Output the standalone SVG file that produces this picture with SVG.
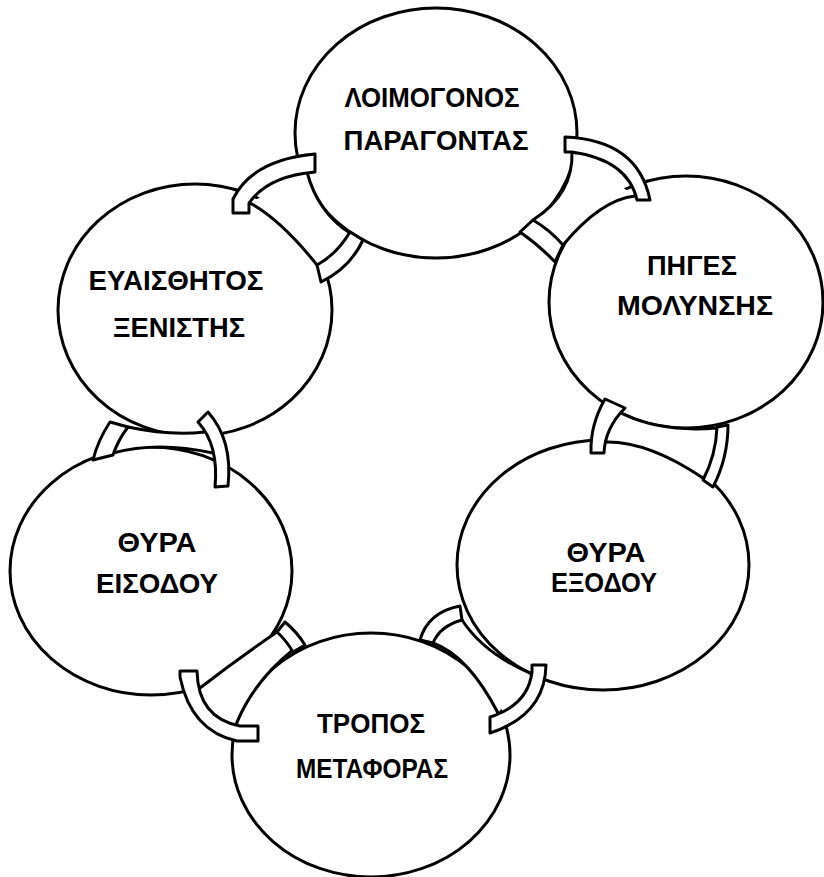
<svg xmlns="http://www.w3.org/2000/svg" width="824" height="877" viewBox="0 0 824 877">
<style>
.c{fill:#fff;stroke:#000;stroke-width:3}
.t{font-family:"Liberation Sans","DejaVu Sans",sans-serif;font-size:27px;font-weight:bold;fill:#000;text-anchor:middle}
.tf{fill:#fff;stroke:none}
.ts{fill:none;stroke:#000;stroke-width:3;stroke-linecap:round}
.lk{fill:#fff;stroke:#000;stroke-width:3;stroke-linejoin:round}
</style>
<rect width="824" height="877" fill="#fff"/>
<g id="node-loimogonos">
<ellipse class="c" cx="436" cy="133" rx="141" ry="125"/>
<text class="t" x="432" y="107" textLength="175" lengthAdjust="spacingAndGlyphs">ΛΟΙΜΟΓΟΝΟΣ</text>
<text class="t" x="436" y="150" textLength="185" lengthAdjust="spacingAndGlyphs">ΠΑΡΑΓΟΝΤΑΣ</text>
</g>
<g id="node-piges">
<ellipse class="c" cx="686" cy="302" rx="137" ry="126"/>
<text class="t" x="692" y="275" textLength="90" lengthAdjust="spacingAndGlyphs">ΠΗΓΕΣ</text>
<text class="t" x="695" y="315" textLength="156" lengthAdjust="spacingAndGlyphs">ΜΟΛΥΝΣΗΣ</text>
</g>
<g id="node-exodou">
<ellipse class="c" cx="603" cy="565" rx="146" ry="125"/>
<text class="t" x="606" y="562" textLength="79" lengthAdjust="spacingAndGlyphs">ΘΥΡΑ</text>
<text class="t" x="604" y="592" textLength="106" lengthAdjust="spacingAndGlyphs">ΕΞΟΔΟΥ</text>
</g>
<g id="node-tropos">
<ellipse class="c" cx="371" cy="755" rx="139" ry="122"/>
<text class="t" x="371" y="733" textLength="108" lengthAdjust="spacingAndGlyphs">ΤΡΟΠΟΣ</text>
<text class="t" x="372" y="778" textLength="152" lengthAdjust="spacingAndGlyphs">ΜΕΤΑΦΟΡΑΣ</text>
</g>
<g id="node-eisodou">
<ellipse class="c" cx="151" cy="571" rx="141" ry="124"/>
<text class="t" x="157" y="552" textLength="79" lengthAdjust="spacingAndGlyphs">ΘΥΡΑ</text>
<text class="t" x="157" y="593" textLength="122" lengthAdjust="spacingAndGlyphs">ΕΙΣΟΔΟΥ</text>
</g>
<g id="node-euaisthitos">
<ellipse class="c" cx="195" cy="310" rx="137" ry="126"/>
<text class="t" x="176" y="290" textLength="175" lengthAdjust="spacingAndGlyphs">ΕΥΑΙΣΘΗΤΟΣ</text>
<text class="t" x="179" y="337" textLength="132" lengthAdjust="spacingAndGlyphs">ΞΕΝΙΣΤΗΣ</text>
</g>
<g id="connectors">
<g id="link-1">
<path class="tf" d="M250,203 Q281,220 317,265 L350,233 Q317.5,212 307,172 Z"/>
<path class="ts" d="M250,203 Q281,220 317,265 M307,172 Q317.5,212 350,233"/>
<path class="lk" d="M317,265 Q337,254 350,232 L363,240 Q350,268 321,282 Z"/>
<path class="lk" d="M233,213 L233,199 Q252,160 315,154 L315,172 Q268,176 249,203 L249,213 Z"/>
</g>
<g id="link-2">
<path class="tf" d="M572,152 Q573.5,194 533,220 L563,245 Q601,199.5 635,196 Z"/>
<path class="ts" d="M572,152 Q573.5,194 533,220 M635,196 Q601,199.5 563,245"/>
<path class="lk" d="M533,220 Q550,230 563,245 L555,262 Q540,246 520,232 Z"/>
<path class="lk" d="M565,137 Q638,140 650,200 L637,200 Q628,160 572,152 L565,152 Z"/>
</g>
<g id="link-3">
<path class="tf" d="M625,415 Q663,432.5 717,428 L703,478 Q647,440 603,442 Z"/>
<path class="ts" d="M625,415 Q663,432.5 717,428 M603,442 Q647,440 703,478"/>
<path class="lk" d="M717,427 Q716,455 703,480 L713,487 Q728,458 728,425 Z"/>
<path class="lk" d="M605,399 Q590,425 591,453 L604,453 Q605,428 625,408 Z"/>
</g>
<g id="link-4">
<path class="tf" d="M433,643 Q468.5,656 498,713 L530,673 Q484,653.5 462,620 Z"/>
<path class="ts" d="M433,643 Q468.5,656 498,713 M462,620 Q484,653.5 530,673"/>
<path class="lk" d="M420,640 Q428,612 460,606 L462,620 Q440,626 433,643 Z"/>
<path class="lk" d="M532,665 L546,665 Q545,715 490,733 L490,717 Q528,705 532,672 Z"/>
</g>
<g id="link-5">
<path class="tf" d="M277,632 Q236,660 200,688 L237,722 Q255,680 293,650 Z"/>
<path class="ts" d="M277,632 Q236,660 200,688 M293,650 Q255,680 237,722"/>
<path class="lk" d="M285,622 Q297,632 305,645 L293,652 Q286,640 277,632 Z"/>
<path class="lk" d="M180,671 L197,671 Q198,718 240,726 L258,726 L258,741 L237,741 Q191,731 180,677 Z"/>
</g>
<g id="link-6">
<path class="tf" d="M128,427 Q170,436 205,432 L213,453 Q157,441 113,453 Z"/>
<path class="ts" d="M128,427 Q170,436 205,432 M113,453 Q157,441 213,453"/>
<path class="lk" d="M110,422 Q98,440 93,460 L113,455 Q118,440 128,427 Z"/>
<path class="lk" d="M198,422 L208,412 Q233,440 228,486 L215,487 Q219,445 198,422 Z"/>
</g>
</g>
</svg>
